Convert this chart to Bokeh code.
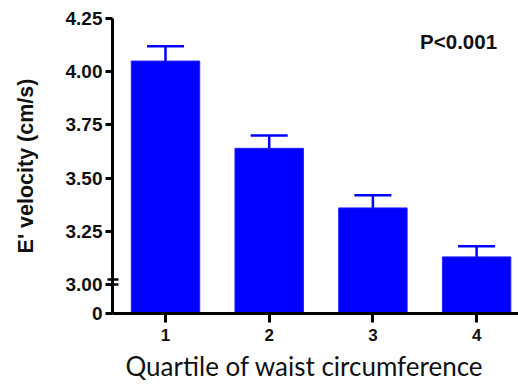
from bokeh.plotting import figure
from bokeh.models import (Range1d, FixedTicker, Whisker, TeeHead, ColumnDataSource,
                          Label, Title)
from bokeh.embed import file_html
from bokeh.resources import INLINE

# ---- data ----
quartiles = [1, 2, 3, 4]
quartile_labels = ["1", "2", "3", "4"]
velocity = [4.05, 3.64, 3.36, 3.13]
sem = [0.07, 0.06, 0.06, 0.05]
y_ticks = [3.00, 3.25, 3.50, 3.75, 4.00, 4.25]
y_tick_labels = ["3.00", "3.25", "3.50", "3.75", "4.00", "4.25"]
zero_label = "0"
x_title = "Quartile of waist circumference"
y_title = "E' velocity (cm/s)"
p_text = "P<0.001"

# display position of the value 0 below the axis break
AXIS_ZERO = 2.864
BREAK_MARKS = [3.0, 3.024]
X_START, X_END = 0.489, 4.404

upper = [v + s for v, s in zip(velocity, sem)]

p = figure(width=518, height=389, x_range=Range1d(X_START, X_END),
           y_range=Range1d(AXIS_ZERO, 4.25),
           min_border_left=112, min_border_right=0, min_border_top=18,
           min_border_bottom=76, output_backend="svg", toolbar_location=None)
p.outline_line_color = None
p.grid.visible = False
p.background_fill_color = "white"
p.border_fill_color = "white"

p.vbar(x=quartiles, top=velocity, bottom=AXIS_ZERO, width=0.66,
       fill_color="#0000FF", line_color="#2020FF", line_width=1)

src = ColumnDataSource(dict(base=quartiles, lower=velocity, upper=upper))
p.add_layout(Whisker(source=src, base="base", lower="lower", upper="upper",
                     line_color="#0000FF", line_width=2.5, lower_head=None,
                     upper_head=TeeHead(size=37, line_color="#0000FF", line_width=2.5)))

FONT = "Liberation Sans"

# y axis
yax = p.yaxis[0]
yax.ticker = FixedTicker(ticks=[AXIS_ZERO] + y_ticks, minor_ticks=BREAK_MARKS)
ov = {AXIS_ZERO: zero_label}
for t, l in zip(y_ticks, y_tick_labels):
    ov[t] = l
yax.major_label_overrides = ov
yax.axis_line_width = 3
yax.major_tick_line_width = 3
yax.major_tick_out = 7
yax.major_tick_in = 0
yax.minor_tick_line_width = 2.5
yax.minor_tick_out = 5
yax.minor_tick_in = 6
yax.major_label_standoff = 3
yax.major_label_text_font = FONT
yax.major_label_text_font_style = "bold"
yax.major_label_text_font_size = "19px"
yax.major_label_text_color = "#111111"
yax.axis_label = y_title
yax.axis_label_text_font = FONT
yax.axis_label_text_font_style = "bold"
yax.axis_label_text_font_size = "21.5px"
yax.axis_label_text_color = "#111111"
yax.axis_label_standoff = 25

# x axis
xax = p.xaxis[0]
xax.ticker = FixedTicker(ticks=quartiles)
xax.major_label_overrides = {q: l for q, l in zip(quartiles, quartile_labels)}
xax.axis_line_width = 3
xax.major_tick_line_width = 3
xax.major_tick_out = 9
xax.major_tick_in = 0
xax.minor_tick_out = 0
xax.minor_tick_in = 0
xax.major_label_standoff = 6
xax.major_label_text_font = FONT
xax.major_label_text_font_style = "bold"
xax.major_label_text_font_size = "17px"
xax.major_label_text_color = "#111111"

p.add_layout(Title(text=x_title, align="left", offset=13, text_font="Lato",
                   text_font_size="26px", text_font_style="normal",
                   text_color="#111111", standoff=8), "below")
p.add_layout(Label(x=3.455, y=4.142, text=p_text, text_align="left",
                   text_baseline="middle", text_font=FONT, text_font_style="bold",
                   text_font_size="20.5px", text_color="#111111"))

open("out.html", "w").write(file_html(p, INLINE))
